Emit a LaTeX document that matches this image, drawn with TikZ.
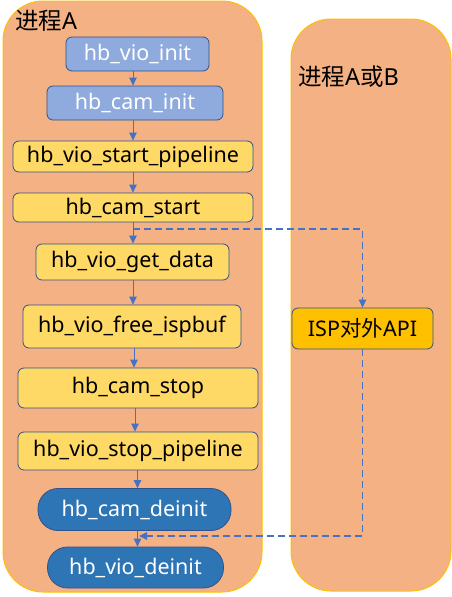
\documentclass[tikz,border=0pt]{standalone}
\usepackage{fontspec}
\setmainfont{Noto Sans}
\newfontfamily\cjk{Noto Sans CJK SC}
\usetikzlibrary{arrows.meta}
\definecolor{contfill}{HTML}{F4B183}
\definecolor{contdraw}{HTML}{FFC000}
\definecolor{lightblue}{HTML}{8FAADC}
\definecolor{paleyellow}{HTML}{FFD966}
\definecolor{darkblue}{HTML}{2E75B6}
\definecolor{ispfill}{HTML}{FFC000}
\definecolor{bordc}{HTML}{2F528F}
\definecolor{linec}{HTML}{4472C4}
\tikzset{
  cont/.style={fill=contfill, draw=contdraw, line width=1pt, rounded corners=40pt},
  fbox/.style={draw=bordc, line width=0.8pt, rounded corners=6pt, inner sep=0pt,
    font=\fontsize{21.5}{24}\selectfont},
  initbox/.style={fbox, fill=lightblue, text=white},
  runbox/.style={fbox, fill=paleyellow, text=black},
  endbox/.style={fbox, fill=darkblue, text=white, rounded corners=20pt},
  ispbox/.style={fbox, fill=ispfill, text=black},
  arr/.style={draw=linec, line width=1pt, -{Triangle[length=8pt,width=7.5pt]}},
  darr/.style={draw=linec, line width=1.2pt, dash pattern=on 7pt off 4pt, -{Triangle[length=8pt,width=7.5pt]}},
  title/.style={font=\fontsize{23.5}{26}\selectfont, anchor=north west, inner sep=0pt}
}
\begin{document}
\begin{tikzpicture}[x=1pt,y=-1pt]
\useasboundingbox (0,0) rectangle (452,597);
\draw[cont] (3,1) rectangle (262,592);
\draw[cont] (291,19) rectangle (451,591);
\node[title] (ta) at (15,10) {{\cjk 进程}A};
\node[title] (tb) at (298,66) {{\cjk 进程}A{\cjk 或}B};

\node[initbox, minimum width=143pt, minimum height=34pt] (vioinit) at (137.5,54) {hb\_vio\_init};
\node[initbox, minimum width=176pt, minimum height=34pt] (caminit) at (135,103) {hb\_cam\_init};
\node[runbox, minimum width=240pt, minimum height=31pt] (startpipe) at (133,156.5) {hb\_vio\_start\_pipeline};
\node[runbox, minimum width=240pt, minimum height=29pt] (camstart) at (133,207.5) {hb\_cam\_start};
\node[runbox, minimum width=193pt, minimum height=36pt] (getdata) at (132.5,262) {hb\_vio\_get\_data};
\node[runbox, minimum width=218pt, minimum height=43pt] (freebuf) at (132,326.5) {hb\_vio\_free\_ispbuf};
\node[runbox, minimum width=240pt, minimum height=40pt] (camstop) at (138,388) {hb\_cam\_stop};
\node[runbox, minimum width=240pt, minimum height=38pt] (stoppipe) at (138,451) {hb\_vio\_stop\_pipeline};
\node[endbox, minimum width=193pt, minimum height=42pt] (camdeinit) at (134.5,509.5) {hb\_cam\_deinit};
\node[endbox, minimum width=176pt, minimum height=41pt] (viodeinit) at (135.5,567.5) {hb\_vio\_deinit};
\node[ispbox, minimum width=141pt, minimum height=41pt] (isp) at (362.5,328.5) {ISP{\cjk 对外}API};

\draw[arr] (vioinit.south -| 133,0) -- (caminit.north -| 133,0);
\draw[arr] (caminit.south -| 133,0) -- (startpipe.north -| 133,0);
\draw[arr] (startpipe.south -| 133,0) -- (camstart.north -| 133,0);
\draw[arr] (camstart.south -| 133,0) -- (getdata.north -| 133,0);
\draw[arr] (getdata.south -| 133,0) -- (freebuf.north -| 133,0);
\draw[arr] (freebuf.south -| 134,0) -- (camstop.north -| 134,0);
\draw[arr] (camstop.south -| 135,0) -- (stoppipe.north -| 135,0);
\draw[arr] (stoppipe.south -| 137.5,0) -- (camdeinit.north -| 137.5,0);
\draw[arr] (camdeinit.south -| 137.5,0) -- (viodeinit.north -| 137.5,0);

\coordinate (split) at (133,229);
\coordinate (join) at (139,536);
\draw[darr] (split) -| (isp.north);
\draw[darr] (isp.south) |- (join);
\end{tikzpicture}
\end{document}
